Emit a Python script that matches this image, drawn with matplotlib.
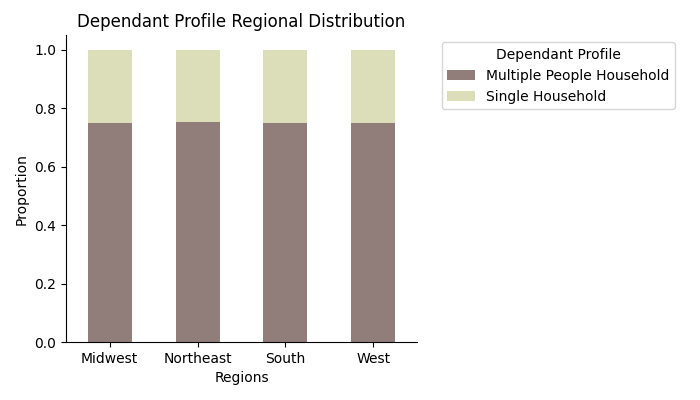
import matplotlib
matplotlib.use("Agg")
import matplotlib.pyplot as plt
import numpy as np

regions = ["Midwest", "Northeast", "South", "West"]
multiple = [0.750, 0.754, 0.750, 0.750]
single = [1 - v for v in multiple]

fig, ax = plt.subplots(figsize=(7, 4), dpi=100)
x = np.arange(len(regions))
ax.bar(x, multiple, width=0.5, color="#917e7b", label="Multiple People Household")
ax.bar(x, single, width=0.5, bottom=multiple, color="#dcdeb9", label="Single Household")
ax.set_xticks(x)
ax.set_xticklabels(regions)
ax.set_xlim(-0.5, len(regions) - 0.5)
ax.set_xlabel("Regions")
ax.set_ylabel("Proportion")
ax.set_title("Dependant Profile Regional Distribution")
ax.spines["top"].set_visible(False)
ax.spines["right"].set_visible(False)
ax.legend(title="Dependant Profile", bbox_to_anchor=(1.05, 1), loc="upper left")
fig.subplots_adjust(left=0.094, right=0.596, top=0.912, bottom=0.145)
fig.savefig("out.png")
